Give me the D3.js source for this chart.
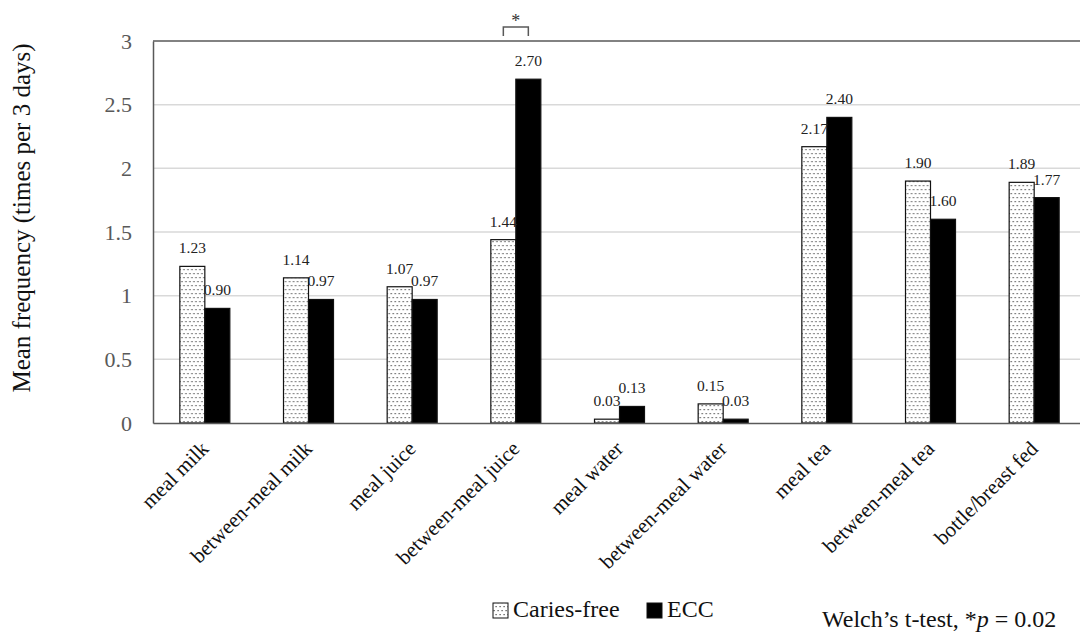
<!DOCTYPE html>
<html>
<head>
<meta charset="utf-8">
<script src="https://cdn.jsdelivr.net/npm/d3@7"></script>
<style>
  body { margin: 0; background: #fff; }
  svg text { font-family: "Liberation Serif", "Times New Roman", serif; }
</style>
</head>
<body>
<div id="chart"></div>
<script>
const categories = ['meal milk', 'between-meal milk', 'meal juice', 'between-meal juice',
  'meal water', 'between-meal water', 'meal tea', 'between-meal tea', 'bottle/breast fed'];
const cariesFree = [1.23, 1.14, 1.07, 1.44, 0.03, 0.15, 2.17, 1.90, 1.89];
const ecc = [0.90, 0.97, 0.97, 2.70, 0.13, 0.03, 2.40, 1.60, 1.77];
const seriesNames = ['Caries-free', 'ECC'];
const yTicks = [0, 0.5, 1, 1.5, 2, 2.5, 3];

const width = 1080;
const height = 635;
const plotLeft = 153;
const plotTop = 41;
const plotBottom = 423;
const plotRight = 1086;
const serif = '"Liberation Serif", "Times New Roman", serif';

const svg = d3.select('#chart')
  .append('svg')
  .attr('width', width)
  .attr('height', height)
  .attr('font-family', serif);

// dotted fill used by the caries-free bars
const defs = svg.append('defs');
const pat = defs.append('pattern')
  .attr('id', 'dots')
  .attr('patternUnits', 'userSpaceOnUse')
  .attr('width', 4)
  .attr('height', 8);
pat.append('rect').attr('width', 4).attr('height', 8).attr('fill', '#fff');
pat.append('rect').attr('x', 0.5).attr('y', 1).attr('width', 1.2).attr('height', 1.2).attr('fill', '#444');
pat.append('rect').attr('x', 2.5).attr('y', 5).attr('width', 1.2).attr('height', 1.2).attr('fill', '#444');

const x = d3.scaleBand().domain(categories).range([plotLeft, plotRight]);
const y = d3.scaleLinear().domain([0, 3]).range([plotBottom, plotTop]);
const barW = 25;

// gridlines
svg.append('g')
  .selectAll('line')
  .data(yTicks.filter(t => t > 0 && t < 3))
  .enter()
  .append('line')
  .attr('x1', plotLeft)
  .attr('x2', width)
  .attr('y1', d => y(d))
  .attr('y2', d => y(d))
  .attr('stroke', '#d9d9d9')
  .attr('stroke-width', 1.5);

// top frame line
svg.append('line')
  .attr('x1', plotLeft).attr('x2', width)
  .attr('y1', y(3)).attr('y2', y(3))
  .attr('stroke', '#595959').attr('stroke-width', 1.5);

const yAxis = d3.axisLeft(y).tickValues(yTicks).tickSize(0).tickPadding(21).tickFormat(d3.format('~g'));
const gy = svg.append('g')
  .attr('transform', `translate(${plotLeft},0)`)
  .call(yAxis)
  .attr('font-family', serif)
  .attr('font-size', 22);
gy.select('.domain').attr('stroke', '#595959').attr('stroke-width', 1.5);
gy.selectAll('text').attr('fill', '#595959');

// bars
const groups = svg.append('g')
  .selectAll('g')
  .data(categories)
  .enter()
  .append('g')
  .attr('transform', d => `translate(${x(d) + x.bandwidth() / 2},0)`);

groups.append('rect')
  .attr('x', -barW)
  .attr('y', (d, i) => y(cariesFree[i]))
  .attr('width', barW)
  .attr('height', (d, i) => y(0) - y(cariesFree[i]))
  .attr('fill', 'url(#dots)')
  .attr('stroke', '#111')
  .attr('stroke-width', 1.2);

groups.append('rect')
  .attr('x', 0)
  .attr('y', (d, i) => y(ecc[i]))
  .attr('width', barW)
  .attr('height', (d, i) => y(0) - y(ecc[i]))
  .attr('fill', '#000')
  .attr('stroke', '#111')
  .attr('stroke-width', 1.2);

groups.append('text')
  .attr('x', -barW / 2)
  .attr('y', (d, i) => y(cariesFree[i]) - 13)
  .attr('text-anchor', 'middle')
  .attr('fill', '#222')
  .attr('font-size', 15.5)
  .text((d, i) => cariesFree[i].toFixed(2));

groups.append('text')
  .attr('x', barW / 2)
  .attr('y', (d, i) => y(ecc[i]) - 13)
  .attr('text-anchor', 'middle')
  .attr('fill', '#222')
  .attr('font-size', 15.5)
  .text((d, i) => ecc[i].toFixed(2));

// x axis
const xAxis = d3.axisBottom(x).tickSize(0).tickFormat('');
const gx = svg.append('g')
  .attr('transform', `translate(0,${plotBottom})`)
  .call(xAxis);
gx.select('.domain').attr('stroke', '#595959').attr('stroke-width', 1.5);

svg.append('g')
  .selectAll('text')
  .data(categories)
  .enter()
  .append('text')
  .attr('transform', d => `translate(${x(d) + x.bandwidth() / 2 + 5},${plotBottom + 27}) rotate(-45)`)
  .attr('text-anchor', 'end')
  .attr('fill', '#111')
  .attr('font-size', 21)
  .text(d => d);

// y label
svg.append('text')
  .attr('transform', `translate(30,${(plotTop + 393) / 2 + 1}) rotate(-90)`)
  .attr('text-anchor', 'middle')
  .attr('fill', '#111')
  .attr('font-size', 25)
  .text('Mean frequency (times per 3 days)');

// significance bracket on between-meal juice
const sigCat = categories[3];
const cx = x(sigCat) + x.bandwidth() / 2;
svg.append('path')
  .attr('d', `M${cx - barW / 2},${plotTop - 5} V${plotTop - 14} H${cx + barW / 2} V${plotTop - 5}`)
  .attr('fill', 'none')
  .attr('stroke', '#595959')
  .attr('stroke-width', 1.5);
svg.append('text')
  .attr('x', cx)
  .attr('y', plotTop - 14)
  .attr('text-anchor', 'middle')
  .attr('fill', '#333')
  .attr('font-size', 18)
  .text('*');

// legend
const legend = svg.append('g').attr('transform', 'translate(493,617)');
const legX = [0, 154];
seriesNames.forEach((name, i) => {
  legend.append('rect')
    .attr('x', legX[i])
    .attr('y', -14)
    .attr('width', 15)
    .attr('height', 15)
    .attr('fill', i === 0 ? 'url(#dots)' : '#000')
    .attr('stroke', '#111')
    .attr('stroke-width', 1);
  legend.append('text')
    .attr('x', legX[i] + 20)
    .attr('y', 0)
    .attr('fill', '#111')
    .attr('font-size', 24)
    .text(name);
});

const note = svg.append('text')
  .attr('x', 822)
  .attr('y', 627)
  .attr('fill', '#111')
  .attr('font-size', 24);
note.append('tspan').text('Welch\u2019s t-test, *');
note.append('tspan').attr('font-style', 'italic').text('p');
note.append('tspan').text(' = 0.02');
</script>
</body>
</html>
